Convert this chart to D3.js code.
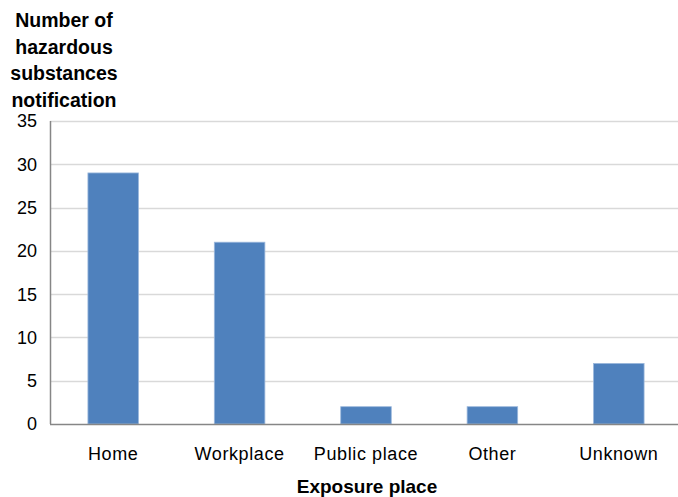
<!DOCTYPE html>
<html>
<head>
<meta charset="utf-8">
<script src="https://cdn.jsdelivr.net/npm/d3@7"></script>
<style>
  body { margin: 0; background: #fff; }
  svg text { font-family: "Liberation Sans", Arial, sans-serif; fill: #000; }
</style>
</head>
<body>
<script>
// data
var categories = ["Home", "Workplace", "Public place", "Other", "Unknown"];
var values = [29, 21, 2, 2, 7];
var yTicks = [0, 5, 10, 15, 20, 25, 30, 35];
var yTitle = ["Number of", "hazardous", "substances", "notification"];
var xTitle = "Exposure place";

var width = 678, height = 497;
var margin = {top: 121, right: -4, bottom: 73, left: 50};

var svg = d3.select("body").append("svg")
    .attr("width", width)
    .attr("height", height);

var x = d3.scaleBand()
    .domain(categories)
    .range([margin.left, width - margin.right])
    .paddingInner(0.6)
    .paddingOuter(0.3);

var y = d3.scaleLinear()
    .domain([0, 35])
    .range([height - margin.bottom, margin.top]);

// gridlines
svg.append("g").selectAll("line").data(yTicks.filter(function(d){ return d > 0; }))
    .enter().append("line")
    .attr("x1", margin.left)
    .attr("x2", width)
    .attr("y1", function(d) { return Math.round(y(d)) + 0.5; })
    .attr("y2", function(d) { return Math.round(y(d)) + 0.5; })
    .attr("stroke", "#d9d9d9")
    .attr("stroke-width", 1.5);

// bars
svg.append("g").selectAll("rect").data(values)
    .enter().append("rect")
    .attr("x", function(d, i) { return x(categories[i]); })
    .attr("y", function(d) { return y(d); })
    .attr("width", x.bandwidth())
    .attr("height", function(d) { return y(0) - y(d); })
    .attr("fill", "#4f81bd")
    .attr("stroke", "#9cb8dc")
    .attr("stroke-width", 0.8);

// axis lines
svg.append("line")
    .attr("x1", margin.left + 0.5).attr("x2", margin.left + 0.5)
    .attr("y1", y(35)).attr("y2", y(0))
    .attr("stroke", "#868686").attr("stroke-width", 1.5);
svg.append("line")
    .attr("x1", margin.left).attr("x2", width)
    .attr("y1", y(0) + 0.5).attr("y2", y(0) + 0.5)
    .attr("stroke", "#868686").attr("stroke-width", 1.5);

// y tick labels
svg.append("g").selectAll("text").data(yTicks)
    .enter().append("text")
    .attr("x", 37)
    .attr("y", function(d) { return y(d); })
    .attr("dy", "0.36em")
    .attr("text-anchor", "end")
    .attr("font-size", 18)
    .text(function(d) { return d; });

// category labels
svg.append("g").selectAll("text").data(categories)
    .enter().append("text")
    .attr("x", function(d) { return x(d) + x.bandwidth() / 2; })
    .attr("y", 460)
    .attr("text-anchor", "middle")
    .attr("font-size", 18)
    .attr("letter-spacing", 0.6)
    .text(function(d) { return d; });

// axis titles
svg.append("g").selectAll("text").data(yTitle)
    .enter().append("text")
    .attr("x", 64)
    .attr("y", function(d, i) { return 27 + i * 26.5; })
    .attr("text-anchor", "middle")
    .attr("font-size", 19.5)
    .attr("font-weight", "bold")
    .text(function(d) { return d; });

svg.append("text")
    .attr("x", 367)
    .attr("y", 493)
    .attr("text-anchor", "middle")
    .attr("font-size", 19)
    .attr("font-weight", "bold")
    .text(xTitle);
</script>
</body>
</html>
